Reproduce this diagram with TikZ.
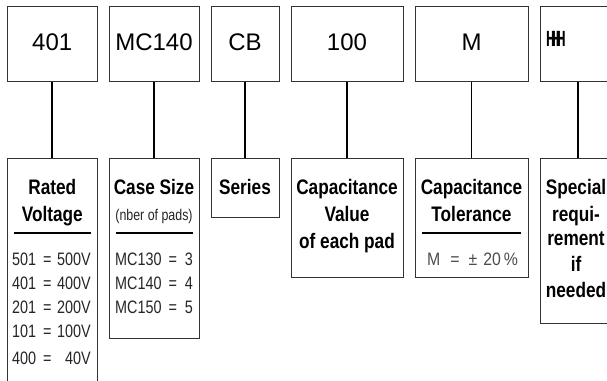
\documentclass[tikz,border=0pt]{standalone}
\usepackage{fontspec}
\setmainfont{Liberation Sans}
\newfontfamily\condf[FakeStretch=0.82]{Liberation Sans}
\newfontfamily\lightf[FakeStretch=0.8]{Liberation Sans}
\newfontfamily\tolf[FakeStretch=0.88]{Liberation Sans}
\newfontfamily\narrowf[FakeStretch=0.62]{Liberation Sans}
\begin{document}
\begin{tikzpicture}[x=1pt,y=-1pt,
  box/.style={draw=black!80,line width=1pt,fill=white,inner sep=0pt},
  topbox/.style={box,minimum height=75pt},
  toptext/.style={anchor=base,font=\fontsize{24}{24}\selectfont},
  hd/.style={anchor=base,inner sep=0pt,font=\condf\bfseries\fontsize{21}{21}\selectfont},
  lt/.style={inner sep=0pt,font=\lightf\fontsize{18}{18}\selectfont,text=black!85},
  conn/.style={line width=1.7pt,black},
  rulel/.style={line width=2pt,black}]
\useasboundingbox (0,0) rectangle (607,380);
% top boxes
\node[topbox,minimum width=89.5pt] (t1) at (52.25,43.5) {};
\node[topbox,minimum width=90pt]   (t2) at (154,43.5) {};
\node[topbox,minimum width=68pt]   (t3) at (245,43.5) {};
\node[topbox,minimum width=112pt]  (t4) at (347,43.5) {};
\node[topbox,minimum width=113pt]  (t5) at (471.5,43.5) {};
\node[topbox,minimum width=72pt]   (t6) at (576,43.5) {};
\node[toptext] (l1) at (52.25,50.5) {401};
\node[toptext] (l2) at (154,50.5) {MC140};
\node[toptext] (l3) at (245,50.5) {CB};
\node[toptext] (l4) at (347,50.5) {100};
\node[toptext] (l5) at (471.5,50.5) {M};
\node[anchor=base west,inner sep=0pt,font=\narrowf\bfseries\fontsize{22}{22}\selectfont] (l6) at (546,46.7) {H\kern-5pt H\kern-5pt H};
% bottom boxes
\node[box,minimum width=89.5pt,minimum height=232pt] (b1) at (52.25,274) {};
\node[box,minimum width=90pt,minimum height=180pt]   (b2) at (154,248) {};
\node[box,minimum width=68pt,minimum height=59pt]    (b3) at (245,187.5) {};
\node[box,minimum width=112pt,minimum height=119pt]  (b4) at (347,217.5) {};
\node[box,minimum width=113pt,minimum height=119pt]  (b5) at (471.5,217.5) {};
\node[box,minimum width=72pt,minimum height=165pt]   (b6) at (576,240.5) {};
% connectors
\draw[conn] (t1.south) -- (b1.north);
\draw[conn] (t2.south) -- (b2.north);
\draw[conn] (t3.south) -- (b3.north);
\draw[conn] (t4.south) -- (b4.north);
\draw[conn] (t5.south) -- (b5.north);
\draw[conn] ([xshift=2pt]t6.south) -- ([xshift=2pt]b6.north);
% box 1
\node[hd] (h1a) at (52.25,194) {Rated};
\node[hd] (h1b) at (52.25,221) {Voltage};
\coordinate (r1a) at (14,233); \coordinate (r1b) at (91,233);
\draw[rulel] (r1a) -- (r1b);
\node[lt,anchor=base west] (v1a) at (12,265) {501\ \,=};
\node[lt,anchor=base east] (v1b) at (91,265) {500V};
\node[lt,anchor=base west] (v2a) at (12,289) {401\ \,=};
\node[lt,anchor=base east] (v2b) at (91,289) {400V};
\node[lt,anchor=base west] (v3a) at (12,313) {201\ \,=};
\node[lt,anchor=base east] (v3b) at (91,313) {200V};
\node[lt,anchor=base west] (v4a) at (12,337) {101\ \,=};
\node[lt,anchor=base east] (v4b) at (91,337) {100V};
\node[lt,anchor=base west] (v5a) at (12,364) {400\ \,=};
\node[lt,anchor=base east] (v5b) at (91,364) {40V};
% box 2
\node[hd] (h2a) at (154,194) {Case Size};
\node[anchor=base,inner sep=0pt,font=\lightf\fontsize{15.5}{15.5}\selectfont,text=black!85] (h2b) at (154,220) {(nber of pads)};
\coordinate (r2a) at (116,233); \coordinate (r2b) at (193,233);
\draw[rulel] (r2a) -- (r2b);
\node[lt,anchor=base west] (m1a) at (115,265) {MC130\ \,=};
\node[lt,anchor=base east] (m1b) at (193,265) {3};
\node[lt,anchor=base west] (m2a) at (115,289) {MC140\ \,=};
\node[lt,anchor=base east] (m2b) at (193,289) {4};
\node[lt,anchor=base west] (m3a) at (115,313) {MC150\ \,=};
\node[lt,anchor=base east] (m3b) at (193,313) {5};
% box 3
\node[hd] (h3) at (245,194) {Series};
% box 4
\node[hd] (h4a) at (347,194) {Capacitance};
\node[hd] (h4b) at (347,221) {Value};
\node[hd] (h4c) at (347,248) {of each pad};
% box 5
\node[hd] (h5a) at (471.5,194) {Capacitance};
\node[hd] (h5b) at (471.5,221) {Tolerance};
\coordinate (r5a) at (422,233); \coordinate (r5b) at (521,233);
\draw[rulel] (r5a) -- (r5b);
\node[anchor=base west,inner sep=0pt,font=\tolf\fontsize{18}{18}\selectfont,text=black!70] (tol) at (427,265) {M\hspace{10pt}=\hspace{9pt}±\hspace{6pt}20\,\%};
% box 6
\node[hd] (h6a) at (576,194) {Special};
\node[hd] (h6b) at (576,221) {requi-};
\node[hd] (h6c) at (576,245) {rement};
\node[hd] (h6d) at (576,271) {if};
\node[hd] (h6e) at (576,297) {needed};
\end{tikzpicture}
\end{document}
